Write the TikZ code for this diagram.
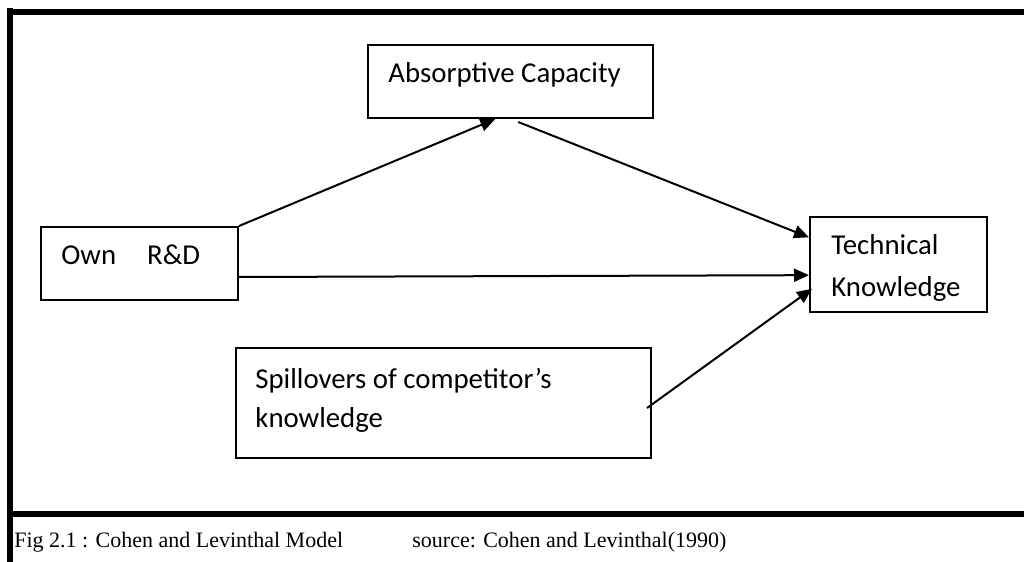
\documentclass[tikz,border=0pt]{standalone}
\usepackage{fontspec}
\setmainfont{Carlito}
\newfontfamily\capfont{Liberation Serif}
\usetikzlibrary{arrows.meta,calc}
\begin{document}
\begin{tikzpicture}[x=0.5pt,y=-0.5pt,
  box/.style={draw,line width=1pt,rectangle,inner sep=0pt,anchor=north west},
  boxtext/.style={anchor=base west,inner sep=0pt,font=\fontsize{14.4}{17}\selectfont},
  captext/.style={anchor=base west,inner sep=0pt,font=\capfont\fontsize{11}{13}\selectfont},
  link/.style={line width=1pt,-{Triangle[length=7.5pt,width=6.5pt]}},
  framebar/.style={line width=3pt}]
\useasboundingbox (0,0) rectangle (1024,562);

% page frame: left rule, top rule and the rule above the caption
\draw[framebar] (10,8) -- (10,562);
\draw[framebar] (7,12) -- (1024,12);
\draw[framebar] (7,514) -- (1024,514);

% boxes
\node[box,minimum width=142.5pt,minimum height=36.5pt] (abs) at (367,44) {};
\node[box,minimum width=98.5pt,minimum height=36.5pt] (own) at (40,226) {};
\node[box,minimum width=88.5pt,minimum height=47.5pt] (tech) at (809,216) {};
\node[box,minimum width=207.5pt,minimum height=55pt] (spill) at (235,347) {};

% box texts
\node[boxtext] (absT) at (388,83) {Absorptive Capacity};
\node[boxtext] (ownT) at (61,264) {Own\hspace{15.5pt}R\&D};
\node[boxtext] (techT1) at (831,254) {Technical};
\node[boxtext] (techT2) at (831,296) {Knowledge};
\node[boxtext] (spillT1) at (255,388) {Spillovers of competitor’s};
\node[boxtext] (spillT2) at (255,427) {knowledge};

% connectors
\draw[link] (own.north east) -- ($(abs.south west)!0.447!(abs.south east)$);
\draw[link] ($(abs.south west)!0.527!(abs.south east)+(0,3)$) -- ($(tech.north west)!0.22!(tech.south west)$);
\draw[link] ($(own.north east)!0.68!(own.south east)$) -- ($(tech.north west)!0.61!(tech.south west)$);
\draw[link] ($(spill.north east)!0.545!(spill.south east)+(-5,0)$) -- ($(tech.north west)!0.75!(tech.south west)+(3,0)$);

% caption
\node[captext] (cap1) at (14,547) {Fig 2.1 : Cohen and Levinthal Model};
\node[captext] (cap2) at (412,547) {source: Cohen and Levinthal(1990)};
\end{tikzpicture}
\end{document}
